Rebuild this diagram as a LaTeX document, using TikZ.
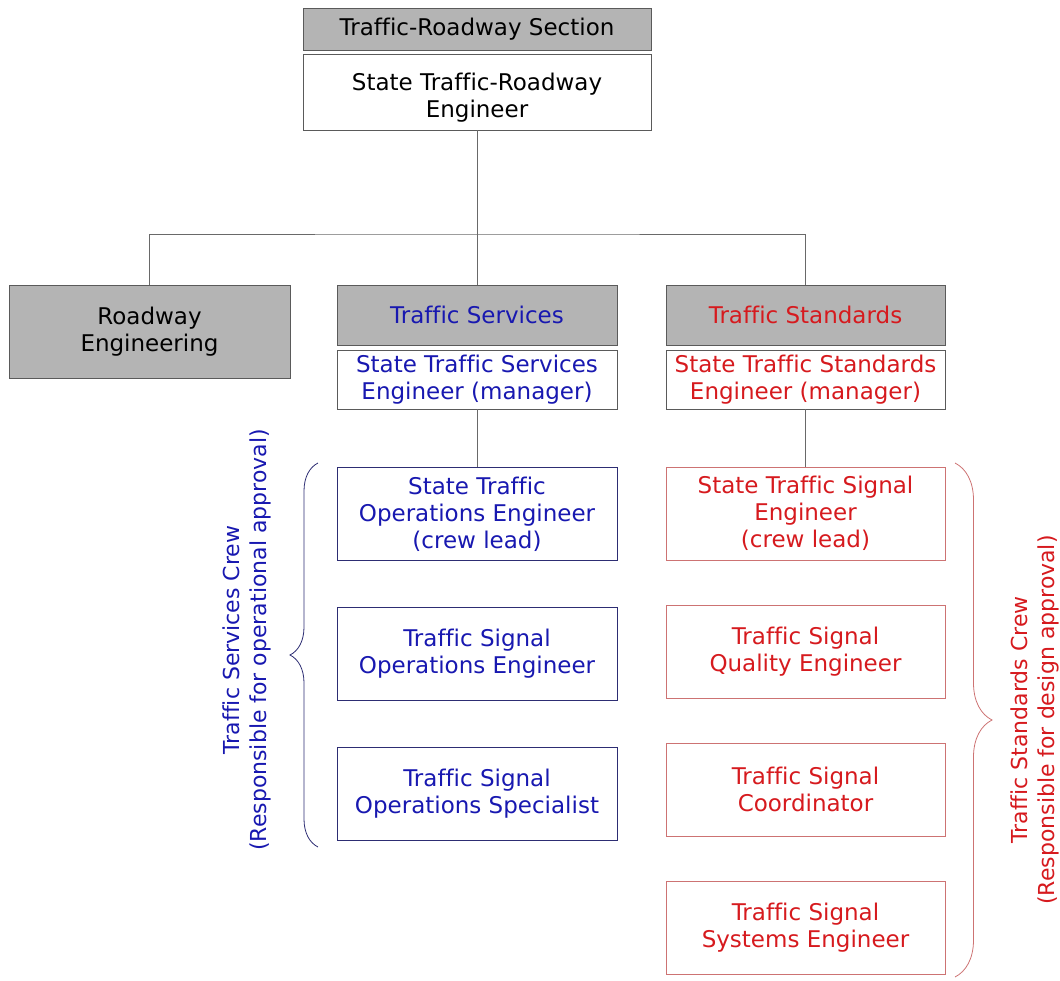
\documentclass[tikz,border=0pt]{standalone}
\usepackage{fontspec}
\setmainfont[Ligatures=NoCommon]{DejaVu Sans}
\usetikzlibrary{
  decorations.pathreplacing,
  calc
}
\definecolor{headgray}{RGB}{180,180,180}
\definecolor{edgegray}{RGB}{90,90,90}
\definecolor{linkgray}{RGB}{105,105,105}
\definecolor{svcblue}{RGB}{24,24,176}
\definecolor{svcedge}{RGB}{45,45,115}
\definecolor{stdred}{RGB}{214,26,30}
\definecolor{stdedge}{RGB}{205,115,115}

\tikzset{
  unit/.style={draw=edgegray, line width=0.8pt, inner sep=0pt, align=center,
    font=\fontsize{23}{27}\selectfont},
  unithead/.style={unit, fill=headgray},
  svcbox/.style={unit, draw=svcedge, text=svcblue, minimum width=280pt, minimum height=93pt},
  stdbox/.style={unit, draw=stdedge, text=stdred, minimum width=279pt, minimum height=93pt},
  link/.style={draw=linkgray, line width=0.8pt},
  crew/.style={decorate, decoration={brace, amplitude=#1}, line width=0.8pt},
  crewlabel/.style={rotate=90, align=center, font=\fontsize{22}{27}\selectfont}
}

\begin{document}
\begin{tikzpicture}[x=1pt,y=-1pt]
	\useasboundingbox (0,0) rectangle (1060,980);

	% section
	\node[unithead, minimum width=348pt, minimum height=42pt] (sechead) at (477,29) {Traffic-Roadway Section};
	\node[unit, minimum width=348pt, minimum height=76pt] (secbody) at (477,92) {\rule{0pt}{29pt}State Traffic-Roadway\\Engineer};

	% units
	\node[unithead, minimum width=281pt, minimum height=93pt] (road) at (149.5,331.5) {Roadway\\Engineering};
	\node[unithead, text=svcblue, minimum width=280pt, minimum height=60pt] (svchead) at (477,315) {Traffic Services};
	\node[unit, text=svcblue, minimum width=280pt, minimum height=59pt] (svcbody) at (477,379.5) {State Traffic Services\\Engineer (manager)};
	\node[unithead, text=stdred, minimum width=279pt, minimum height=60pt] (stdhead) at (805.5,315) {Traffic Standards};
	\node[unit, text=stdred, minimum width=279pt, minimum height=59pt] (stdbody) at (805.5,379.5) {State Traffic Standards\\Engineer (manager)};

	% crews
	\node[svcbox] (svc1) at (477,514) {State Traffic\\Operations Engineer\\(crew lead)};
	\node[svcbox] (svc2) at (477,654) {Traffic Signal\\Operations Engineer};
	\node[svcbox] (svc3) at (477,794) {Traffic Signal\\Operations Specialist};

	\node[stdbox] (std1) at (805.5,513.5) {State Traffic Signal\\Engineer\\(crew lead)};
	\node[stdbox] (std2) at (805.5,651.5) {Traffic Signal\\Quality Engineer};
	\node[stdbox] (std3) at (805.5,789.5) {Traffic Signal\\Coordinator};
	\node[stdbox] (std4) at (805.5,927.5) {Traffic Signal\\Systems Engineer};

	% connectors
	\coordinate (split) at (477,234);
	\draw[link] (secbody.south) -- (split);
	\draw[link] (road.north) |- (split) -| (stdhead.north);
	\draw[link] (split) -- (svchead.north);
	\draw[link] (svcbody.south) -- (svc1.north);
	\draw[link] (stdbody.south) -- (std1.north);

	% braces
	\draw[crew=28pt, svcedge] (318,847) -- (318,463);
	\draw[crew=37pt, stdedge] (955,463) -- (955,977);
	\node[crewlabel, text=svcblue] (svclabel) at (247,640) {Traffic Services Crew\\(Responsible for operational approval)};
	\node[crewlabel, text=stdred] (stdlabel) at (1035,720) {Traffic Standards Crew\\(Responsible for design approval)};
\end{tikzpicture}
\end{document}
